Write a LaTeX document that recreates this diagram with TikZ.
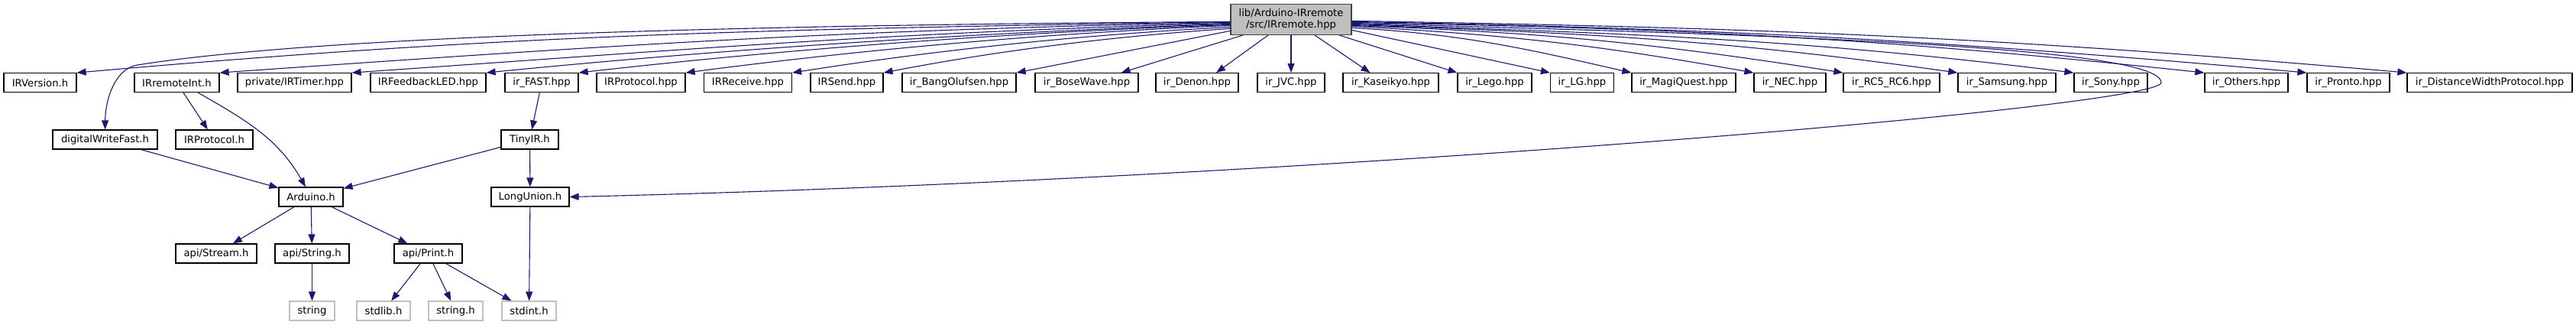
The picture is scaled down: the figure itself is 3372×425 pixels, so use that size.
\documentclass[tikz,border=0pt]{standalone}
\usepackage{fontspec}
\setmainfont{DejaVu Sans}
\usepackage{tikz}
\definecolor{midnightblue}{HTML}{191970}
\definecolor{grayfill}{HTML}{BFBFBF}
\definecolor{darkline}{HTML}{404040}
\definecolor{lightline}{HTML}{BFBFBF}
\usetikzlibrary{arrows.meta}

\begin{document}
\begin{tikzpicture}[
          x=1pt, y=1pt,
          every node/.style = {font=\fontsize{13.2}{15}\selectfont},
          hdr/.style = {draw=black, fill=white, line width=1.2pt,
                        minimum height=25pt, inner sep=2pt},
          roothdr/.style = {draw=darkline, fill=grayfill, line width=1.2pt,
                            minimum width=158pt, minimum height=40pt,
                            inner sep=2pt, align=center},
          syshdr/.style = {draw=lightline, fill=white, line width=1.2pt,
                           minimum height=25pt, inner sep=2pt},
          arr/.style = {-{Triangle[length=12pt, width=9pt]}, midnightblue, line width=1.1pt},
        ]
        \useasboundingbox (0,0) rectangle (3372,-425);

        %% Nodes
        \node[roothdr] (root) at (1690,-25.4) {lib/Arduino-IRremote\\/src/IRremote.hpp};

        \node[hdr, minimum width=95pt]  (irversion)     at (52.5,-108.2)  {IRVersion.h};
        \node[hdr, minimum width=111pt] (irremoteint)   at (231.5,-108.2) {IRremoteInt.h};
        \node[hdr, minimum width=149pt] (irtimer)       at (385.5,-108.2) {private/IRTimer.hpp};
        \node[hdr, minimum width=151pt] (irfeedbackled) at (560.5,-108.2) {IRFeedbackLED.hpp};
        \node[hdr, minimum width=96pt]  (irfast)        at (709,-108.2)   {ir\_FAST.hpp};
        \node[hdr, minimum width=116pt] (irprotocolhpp) at (839,-108.2)   {IRProtocol.hpp};
        \node[hdr, minimum width=115pt] (irreceive)     at (979,-108.2)   {IRReceive.hpp};
        \node[hdr, minimum width=95pt]  (irsend)        at (1108.5,-108.2) {IRSend.hpp};
        \node[hdr, minimum width=149pt] (irbangolufsen) at (1255.5,-108.2) {ir\_BangOlufsen.hpp};
        \node[hdr, minimum width=135pt] (irbosewave)    at (1422.5,-108.2) {ir\_BoseWave.hpp};
        \node[hdr, minimum width=108pt] (irdenon)       at (1567,-108.2)  {ir\_Denon.hpp};
        \node[hdr, minimum width=88pt]  (irjvc)         at (1690,-108.2)  {ir\_JVC.hpp};
        \node[hdr, minimum width=125pt] (irkaseikyo)    at (1820.5,-108.2) {ir\_Kaseikyo.hpp};
        \node[hdr, minimum width=97pt]  (irlego)        at (1956.5,-108.2) {ir\_Lego.hpp};
        \node[hdr, minimum width=83pt]  (irlg)          at (2071,-108.2)  {ir\_LG.hpp};
        \node[hdr, minimum width=136pt] (irmagiquest)   at (2204,-108.2)  {ir\_MagiQuest.hpp};
        \node[hdr, minimum width=94pt]  (irnec)         at (2343,-108.2)  {ir\_NEC.hpp};
        \node[hdr, minimum width=126pt] (irrc)          at (2476,-108.2)  {ir\_RC5\_RC6.hpp};
        \node[hdr, minimum width=128pt] (irsamsung)     at (2627,-108.2)  {ir\_Samsung.hpp};
        \node[hdr, minimum width=96pt]  (irsony)        at (2763,-108.2)  {ir\_Sony.hpp};
        \node[hdr, minimum width=109pt] (irothers)      at (2940.5,-108.2) {ir\_Others.hpp};
        \node[hdr, minimum width=108pt] (irpronto)      at (3074,-108.2)  {ir\_Pronto.hpp};
        \node[hdr, minimum width=216pt] (irdistance)    at (3259,-108.2)  {ir\_DistanceWidthProtocol.hpp};

        \node[hdr, minimum width=137pt] (dwf)         at (137.5,-182.5) {digitalWriteFast.h};
        \node[hdr, minimum width=101pt] (irprotocolh) at (280.5,-182.5) {IRProtocol.h};
        \node[hdr, minimum width=75pt]  (tinyir)      at (693.5,-182.5) {TinyIR.h};

        \node[hdr, minimum width=84pt]  (arduino)   at (407,-257.5) {Arduino.h};
        \node[hdr, minimum width=102pt] (longunion) at (694,-257.5) {LongUnion.h};

        \node[hdr, minimum width=106pt] (apistream) at (283,-331.5)   {api/Stream.h};
        \node[hdr, minimum width=97pt]  (apistring) at (408.5,-331.5) {api/String.h};
        \node[hdr, minimum width=89pt]  (apiprint)  at (560.5,-331.5) {api/Print.h};

        \node[syshdr, minimum width=59pt] (string)  at (408.5,-406.5) {string};
        \node[syshdr, minimum width=70pt] (stdlib)  at (502,-406.5)   {stdlib.h};
        \node[syshdr, minimum width=71pt] (stringh) at (596.5,-406.5) {string.h};
        \node[syshdr, minimum width=71pt] (stdint)  at (692.5,-406.5) {stdint.h};

        \coordinate (dwfbend) at (180,-85);
        \coordinate (luturn) at (2829,-108);

        %% Root to the left
        \draw[arr] ([yshift=-3pt]root.west) .. controls (900,-33) and (400,-50) .. (dwfbend)
                   .. controls (150.4,-89.7) and (138,-130) .. (dwf.north);
        \draw[arr] ([yshift=-3pt]root.west)  .. controls +(-592,-10) and +(590,52) .. (irversion.north east);
        \draw[arr] ([yshift=-4pt]root.west)  .. controls +(-519,-10) and +(517,36) .. (irremoteint.north east);
        \draw[arr] ([yshift=-5pt]root.west)  .. controls +(-451,-12) and +(450,31) .. (irtimer.north east);
        \draw[arr] ([yshift=-6pt]root.west)  .. controls +(-326,-11) and +(324,32) .. (irfeedbackled.north east);
        \draw[arr] ([yshift=-7pt]root.west)  .. controls +(-285,-10) and +(283,32) .. (irfast.north east);
        \draw[arr] ([yshift=-8pt]root.west)  .. controls +(-239,-10) and +(237,31) .. (irprotocolhpp.north east);
        \draw[arr] ([yshift=-10pt]root.west) .. controls +(-193,-10) and +(191,30) .. (irreceive.north east);
        \draw[arr] ([yshift=-12pt]root.west) .. controls +(-153,-10) and +(150,29) .. (irsend.north east);
        \draw[arr] ([yshift=-15pt]root.west) -- (irbangolufsen.north east);
        \draw[arr] ([xshift=-63pt]root.south) -- ([xshift=45pt]irbosewave.north);
        \draw[arr] ([xshift=-30pt]root.south) -- ([xshift=25pt]irdenon.north);
        \draw[arr] (root.south) -- (irjvc.north);

        %% Root to the right
        \draw[arr] ([xshift=31pt]root.south) -- ([xshift=-27pt]irkaseikyo.north);
        \draw[arr] ([xshift=63pt]root.south) -- (irlego.north west);
        \draw[arr] ([yshift=-14pt]root.east) -- (irlg.north west);
        \draw[arr] ([yshift=-11pt]root.east) .. controls +(144,-8)  and +(-140,32) .. (irmagiquest.north west);
        \draw[arr] ([yshift=-9pt]root.east)  .. controls +(206,-11) and +(-203,36) .. (irnec.north west);
        \draw[arr] ([yshift=-8pt]root.east)  .. controls +(252,-9)  and +(-249,39) .. (irrc.north west);
        \draw[arr] ([yshift=-7pt]root.east)  .. controls +(310,-11) and +(-307,43) .. (irsamsung.north west);
        \draw[arr] ([yshift=-6pt]root.east)  .. controls +(369,-13) and +(-366,45) .. (irsony.north west);
        \draw[arr] ([yshift=-4pt]root.east)  .. controls +(436,-8)  and +(-434,46) .. (irothers.north west);
        \draw[arr] ([yshift=-3pt]root.east)  .. controls +(489,-9)  and +(-487,43) .. (irpronto.north west);
        \draw[arr] ([yshift=-2pt]root.east)  .. controls +(540,-9)  and +(-538,47) .. (irdistance.north west);

        %% Loop back to LongUnion.h
        \draw[arr] ([yshift=-5pt]root.east) .. controls (2300,-45) and (2829,-60) .. (luturn)
                   .. controls (2829,-140) and (1700,-235) .. (longunion.east);

        %% Lower levels
        \draw[arr] (irremoteint) -- (irprotocolh);
        \draw[arr] ([xshift=28pt]irremoteint.south) .. controls +(63,-36) and +(-36,63) .. ([xshift=-7pt]arduino.north);
        \draw[arr] (dwf) -- (arduino);
        \draw[arr] (irfast) -- (tinyir);
        \draw[arr] (tinyir) -- (arduino);
        \draw[arr] (tinyir) -- (longunion);
        \draw[arr] (longunion) -- (stdint);
        \draw[arr] (arduino) -- (apistream);
        \draw[arr] (arduino) -- (apistring);
        \draw[arr] (arduino) -- (apiprint);
        \draw[arr] (apistring) -- (string);
        \draw[arr] (apiprint) -- (stdlib);
        \draw[arr] (apiprint) -- (stringh);
        \draw[arr] (apiprint) -- (stdint);
      \end{tikzpicture}
\end{document}
